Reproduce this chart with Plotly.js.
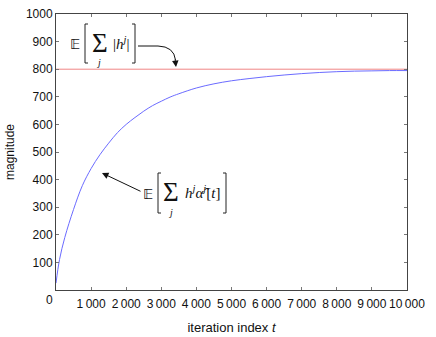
<!DOCTYPE html>
<html>
<head>
<meta charset="utf-8">
<script src="https://cdn.plot.ly/plotly-3.0.1.min.js"></script>
<style>html,body{margin:0;padding:0;background:#fff;}#chart{width:436px;height:337px;}</style>
</head>
<body>
<div id="chart"></div>
<script>
// ---- data ----
const iterations = [0, 100, 250, 500, 750, 1000, 1250, 1500, 1750, 2000, 2250, 2500, 2750, 3000, 3250, 3500, 4000, 4500, 5000, 5500, 6000, 6500, 7000, 7500, 8000, 8500, 9000, 9500, 10000];
const expectedSum = [25, 110, 190, 292, 378, 440, 490, 532, 570, 600, 625, 648, 668, 684, 699, 711, 732, 747, 758, 766, 773, 779, 784, 788, 791, 793, 794, 795, 795];
const boundX = [0, 10000];
const boundY = [800, 800];
const xTickVals = [1000, 2000, 3000, 4000, 5000, 6000, 7000, 8000, 9000, 10000];
const xTickText = ['1\u2009000', '2\u2009000', '3\u2009000', '4\u2009000', '5\u2009000', '6\u2009000', '7\u2009000', '8\u2009000', '9\u2009000', '10\u2009000'];
const yTickVals = [100, 200, 300, 400, 500, 600, 700, 800, 900, 1000];
const yTickText = ['100', '200', '300', '400', '500', '600', '700', '800', '900', '1000'];

// ---- layout helpers (pixel -> paper) ----
const M = {l: 56, r: 29, t: 14, b: 47};
const W = 436, H = 337;
const PW = W - M.l - M.r, PH = H - M.t - M.b;
const px = x => (x - M.l) / PW;
const py = y => (H - M.b - y) / PH;

const serif = 'Liberation Serif, DejaVu Serif, serif';
const sans = 'Liberation Sans, Arial, sans-serif';

function bracket(x, y0, y1, dir) {
  const s = 3 * dir;
  return {type: 'path', xref: 'paper', yref: 'paper',
    path: `M ${px(x + s)},${py(y0)} L ${px(x)},${py(y0)} L ${px(x)},${py(y1)} L ${px(x + s)},${py(y1)}`,
    line: {color: '#222', width: 1}};
}
function txt(x, y, text, size, family) {
  return {xref: 'paper', yref: 'paper', x: px(x), y: py(y), text: text, showarrow: false,
    xanchor: 'center', yanchor: 'middle', font: {family: family || serif, size: size, color: '#111'}};
}

const traces = [
  {x: boundX, y: boundY, mode: 'lines', line: {color: '#f08484', width: 1}, hoverinfo: 'skip'},
  {x: iterations, y: expectedSum, mode: 'lines', line: {color: '#6b6bff', width: 1, shape: 'spline', smoothing: 1}, hoverinfo: 'skip'}
];

const annotations = [
  // top formula  E[ sum_j |h^j| ]
  txt(75, 43.5, '\uD835\uDD3C', 14, 'DejaVu Sans, serif'),
  txt(99.5, 42.5, '\u03A3', 27),
  txt(98, 62, '<i>j</i>', 10),
  txt(121, 42.5, '|<i>h</i><sup><i>j</i></sup>|', 15),
  // bottom formula  E[ sum_j h^j alpha^j[t] ]
  txt(148, 193.5, '\uD835\uDD3C', 14, 'DejaVu Sans, serif'),
  txt(171, 191.5, '\u03A3', 27),
  txt(170.5, 212, '<i>j</i>', 10),
  txt(202.5, 192, '<i>h</i><sup><i>j</i></sup><i>\u03B1\u0302</i><sup><i>j</i></sup>[<i>t</i>]', 15),
  // curved arrow head (top)
  {xref: 'paper', yref: 'paper', x: px(176), y: py(67), ax: -1, ay: -9, text: '', showarrow: true,
    arrowhead: 2, arrowsize: 1.3, arrowwidth: 1, arrowcolor: '#111'},
  // straight arrow (bottom)
  {xref: 'paper', yref: 'paper', x: px(102), y: py(173), ax: 40, ay: 19, text: '', showarrow: true,
    arrowhead: 2, arrowsize: 1.3, arrowwidth: 1, arrowcolor: '#111'},
  // shared origin label
  txt(49.5, 299.5, '0', 12, sans)
];

const shapes = [
  bracket(85, 24, 63, 1), bracket(135, 24, 63, -1),
  bracket(158, 173, 213, 1), bracket(226, 173, 213, -1),
  {type: 'path', xref: 'paper', yref: 'paper',
    path: `M ${px(138)},${py(46)} L ${px(158)},${py(46)} Q ${px(174)},${py(46.5)} ${px(175.5)},${py(60)}`,
    line: {color: '#111', width: 1}}
];

const axisCommon = {
  showgrid: false, zeroline: false, showline: true, mirror: 'ticks',
  linecolor: '#444', linewidth: 1, ticks: 'inside', ticklen: 3, tickwidth: 1, tickcolor: '#777',
  tickfont: {family: sans, size: 12, color: '#111'}, tickmode: 'array', fixedrange: true
};

const layout = {
  width: W, height: H, margin: M, showlegend: false,
  paper_bgcolor: '#fff', plot_bgcolor: '#fff',
  xaxis: Object.assign({}, axisCommon, {range: [0, 10000], tickvals: xTickVals, ticktext: xTickText,
    ticklabelstandoff: 3,
    title: {text: 'iteration index <i>t</i>', font: {family: sans, size: 13, color: '#111'}, standoff: 12}}),
  yaxis: Object.assign({}, axisCommon, {range: [0, 1000], tickvals: yTickVals, ticktext: yTickText,
    title: {text: 'magnitude', font: {family: sans, size: 12, color: '#111'}, standoff: 8}}),
  annotations: annotations, shapes: shapes
};

Plotly.newPlot('chart', traces, layout, {staticPlot: true, displayModeBar: false});
</script>
</body>
</html>
